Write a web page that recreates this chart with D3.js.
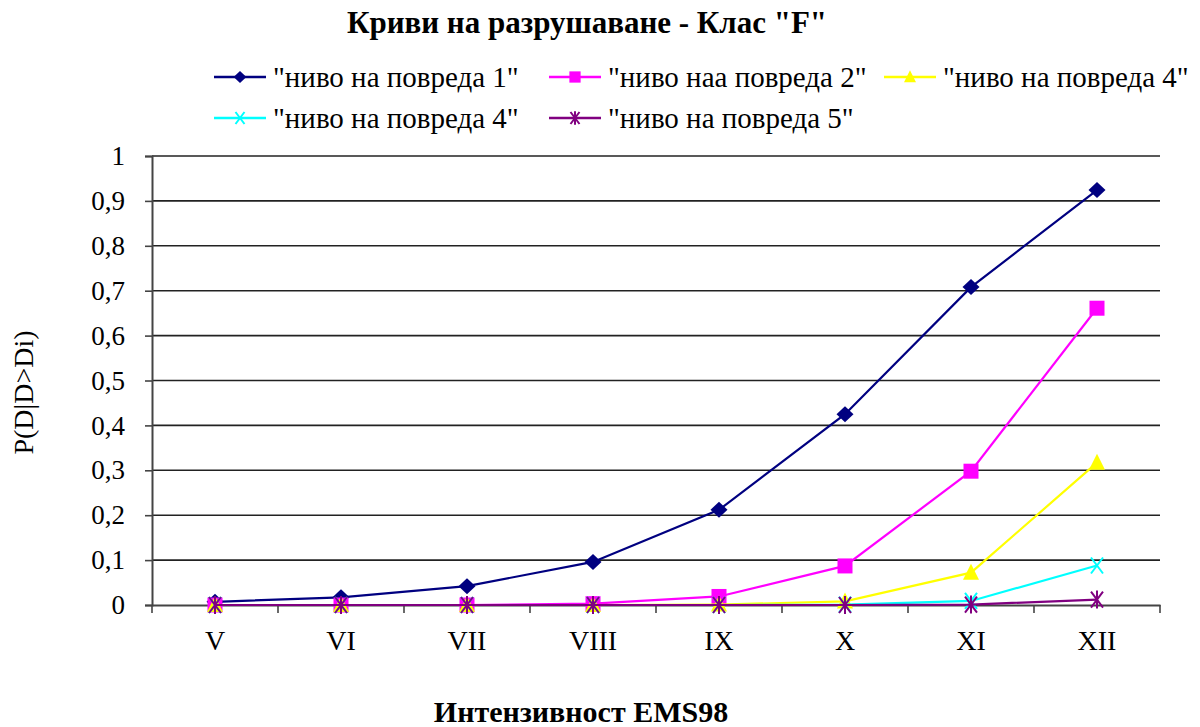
<!DOCTYPE html>
<html>
<head>
<meta charset="utf-8">
<script src="https://cdn.jsdelivr.net/npm/d3@7"></script>
<style>
  html, body { margin: 0; padding: 0; background: #fff; }
  svg { display: block; font-family: "Liberation Serif", "Times New Roman", serif; }
</style>
</head>
<body>
<svg id="chart" width="1200" height="727"></svg>
<script>
// Intensity levels (EMS98)
const categories = ["V", "VI", "VII", "VIII", "IX", "X", "XI", "XII"];

// Exceedance probability for each damage level
const level1 = [0.007, 0.017, 0.042, 0.096, 0.212, 0.425, 0.708, 0.924];
const level2 = [0.000, 0.000, 0.000, 0.003, 0.019, 0.087, 0.298, 0.661];
const level3 = [0.000, 0.000, 0.000, 0.000, 0.001, 0.008, 0.072, 0.317];
const level4 = [0.000, 0.000, 0.000, 0.000, 0.000, 0.001, 0.009, 0.088];
const level5 = [0.000, 0.000, 0.000, 0.000, 0.000, 0.000, 0.001, 0.012];

const seriesNames = [
  "\"ниво на повреда 1\"",
  "\"ниво наа повреда 2\"",
  "\"ниво на повреда 4\"",
  "\"ниво на повреда 4\"",
  "\"ниво на повреда 5\""
];

const yTicks = [0, 0.1, 0.2, 0.3, 0.4, 0.5, 0.6, 0.7, 0.8, 0.9, 1];

const series = [
  { name: seriesNames[0], values: level1, color: "#000080", marker: "diamond" },
  { name: seriesNames[1], values: level2, color: "#ff00ff", marker: "square" },
  { name: seriesNames[2], values: level3, color: "#ffff00", marker: "triangle" },
  { name: seriesNames[3], values: level4, color: "#00ffff", marker: "cross" },
  { name: seriesNames[4], values: level5, color: "#800080", marker: "star" }
];

const FONT = "Liberation Serif, Times New Roman, serif";
const svg = d3.select("#chart");
const plot = { left: 152, right: 1160, top: 156, bottom: 605 };

const x = d3.scaleBand().domain(categories).range([plot.left, plot.right]).padding(0);
const y = d3.scaleLinear().domain([0, 1]).range([plot.bottom, plot.top]);
const cx = c => x(c) + x.bandwidth() / 2;

// Title
svg.append("text")
  .attr("x", 587).attr("y", 33)
  .attr("text-anchor", "middle")
  .attr("font-size", 31).attr("font-weight", "bold")
  .text("Криви на разрушаване - Клас \"F\"");

// Horizontal gridlines
svg.append("g")
  .selectAll("line")
  .data(yTicks.filter(t => t > 0))
  .join("line")
  .attr("x1", plot.left).attr("x2", plot.right)
  .attr("y1", d => y(d)).attr("y2", d => y(d))
  .attr("stroke", "#222").attr("stroke-width", 1.6);

// Y axis
const yAxis = svg.append("g")
  .attr("transform", `translate(${plot.left},0)`)
  .call(d3.axisLeft(y).tickValues(yTicks).tickSize(7).tickPadding(20)
    .tickFormat(d => String(d).replace(".", ",")));
yAxis.select(".domain").attr("stroke", "#444").attr("stroke-width", 2);
yAxis.selectAll(".tick line").attr("stroke", "#444").attr("stroke-width", 1.6);
yAxis.selectAll("text").attr("font-size", 27).attr("fill", "#000")
  .attr("font-family", FONT);

// X axis with ticks at the category boundaries
const xAxis = svg.append("g")
  .attr("transform", `translate(0,${plot.bottom})`)
  .call(d3.axisBottom(x).tickSize(0).tickPadding(25));
xAxis.select(".domain").attr("stroke", "#444").attr("stroke-width", 2);
xAxis.selectAll("text").attr("font-size", 28).attr("fill", "#000")
  .attr("font-family", FONT);
xAxis.selectAll(".boundary")
  .data(d3.range(categories.length + 1))
  .join("line")
  .attr("class", "boundary")
  .attr("x1", i => plot.left + i * x.bandwidth())
  .attr("x2", i => plot.left + i * x.bandwidth())
  .attr("y1", 0).attr("y2", 8)
  .attr("stroke", "#444").attr("stroke-width", 1.6);

// Axis titles
svg.append("text")
  .attr("transform", `translate(33,${(plot.top + plot.bottom) / 2 + 12}) rotate(-90)`)
  .attr("text-anchor", "middle")
  .attr("font-size", 28)
  .text("P(D|D>Di)");

svg.append("text")
  .attr("x", 581).attr("y", 722)
  .attr("text-anchor", "middle")
  .attr("font-size", 30).attr("font-weight", "bold")
  .text("Интензивност EMS98");

// Marker drawing
function drawMarker(g, type, color, k = 1) {
  if (type === "diamond") {
    g.append("path").attr("d", `M0,${-8 * k}L${8.5 * k},0L0,${8 * k}L${-8.5 * k},0Z`).attr("fill", color);
  } else if (type === "square") {
    g.append("rect").attr("x", -7.5 * k).attr("y", -7.5 * k)
      .attr("width", 15 * k).attr("height", 15 * k).attr("fill", color);
  } else if (type === "triangle") {
    g.append("path").attr("d", `M0,${-9 * k}L${8 * k},${7 * k}L${-8 * k},${7 * k}Z`).attr("fill", color);
  } else if (type === "cross") {
    g.append("path").attr("d", `M${-6 * k},${-8 * k}L${6 * k},${8 * k}M${-6 * k},${8 * k}L${6 * k},${-8 * k}`)
      .attr("stroke", color).attr("stroke-width", 2).attr("fill", "none");
  } else if (type === "star") {
    g.append("path").attr("d", `M${-6 * k},${-8 * k}L${6 * k},${8 * k}M${-6 * k},${8 * k}L${6 * k},${-8 * k}M0,${-9 * k}L0,${9 * k}`)
      .attr("stroke", color).attr("stroke-width", 2).attr("fill", "none");
  }
}

const line = d3.line().x((d, i) => cx(categories[i])).y(d => y(d));

series.forEach(s => {
  const g = svg.append("g");
  g.append("path")
    .datum(s.values)
    .attr("d", line)
    .attr("fill", "none")
    .attr("stroke", s.color)
    .attr("stroke-width", 2.2);
  g.selectAll(".pt")
    .data(s.values)
    .join("g")
    .attr("class", "pt")
    .attr("transform", (d, i) => `translate(${cx(categories[i])},${y(d)})`)
    .each(function () { drawMarker(d3.select(this), s.marker, s.color); });
});

// Legend
const legendPos = [
  { x: 214, y: 77 }, { x: 549, y: 77 }, { x: 884, y: 77 },
  { x: 214, y: 118 }, { x: 549, y: 118 }
];
series.forEach((s, i) => {
  const p = legendPos[i];
  const g = svg.append("g").attr("transform", `translate(${p.x},${p.y})`);
  g.append("line").attr("x1", 0).attr("x2", 52).attr("y1", 0).attr("y2", 0)
    .attr("stroke", s.color).attr("stroke-width", 2.5);
  const m = g.append("g").attr("transform", "translate(26,0)");
  drawMarker(m, s.marker, s.color, 0.75);
  g.append("text").attr("x", 59).attr("y", 10)
    .attr("font-size", 29).text(s.name);
});
</script>
</body>
</html>
